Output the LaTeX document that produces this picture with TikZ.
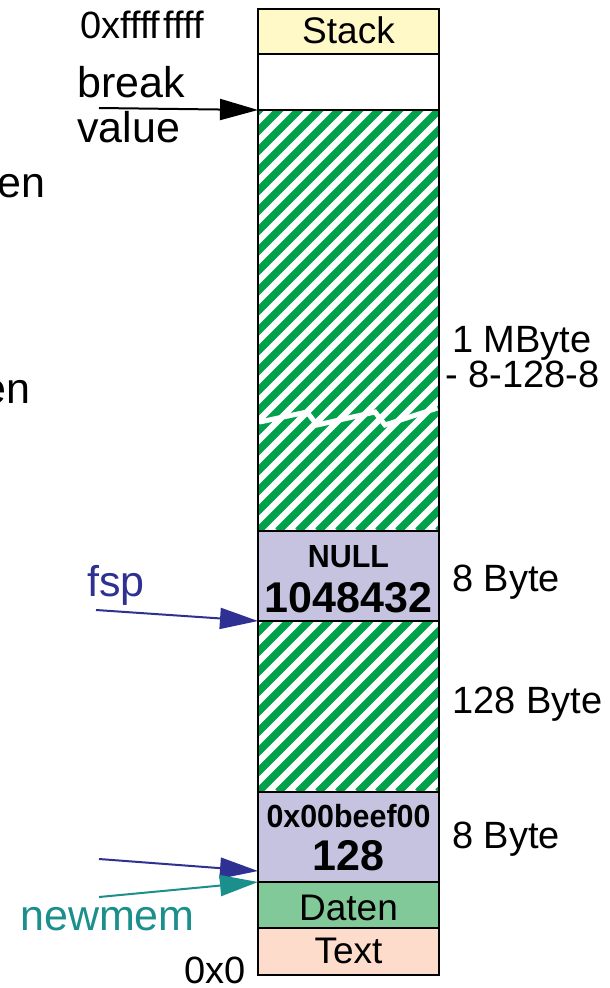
\documentclass[tikz,border=0pt]{standalone}
\usepackage{fontspec}
\setmainfont{Liberation Sans}
\newfontfamily\narrowfont[FakeStretch=0.95]{Liberation Sans}
\usetikzlibrary{arrows.meta}

\definecolor{stackyellow}{HTML}{FFF9C8}
\definecolor{freelav}{HTML}{C5C3E0}
\definecolor{datagreen}{HTML}{82C99A}
\definecolor{textpeach}{HTML}{FDDCCB}
\definecolor{stripegreen}{HTML}{00A14B}
\definecolor{fspblue}{HTML}{2E3192}
\definecolor{memteal}{HTML}{1B8F8B}

\tikzset{
  seg/.style={draw, line width=2.2pt, minimum width=181pt, inner sep=0pt, outer sep=0pt,
    font=\fontsize{37}{40}\selectfont},
  stripes/.style={path picture={
    \foreach \k in {-25,...,10}
      \draw[stripegreen, line width=7.5pt] ([xshift=\k*20pt]path picture bounding box.south west) -- ++(500,-500);
  }},
  lbl/.style={inner sep=0pt, font=\fontsize{38}{40}\selectfont},
  biglbl/.style={inner sep=0pt, font=\fontsize{43}{46}\selectfont},
  hdrsmall/.style={inner sep=0pt, font=\fontsize{32}{34}\narrowfont\bfseries},
  hdrbig/.style={inner sep=0pt, font=\fontsize{43}{44}\selectfont\bfseries},
  ptr/.style={line width=2pt, -{Triangle[length=38pt,width=21pt]}},
}

\begin{document}
\begin{tikzpicture}[x=1pt,y=-1pt]
  \useasboundingbox (0,0) rectangle (610,988);
  \clip (0,0) rectangle (610,988);

  \node[seg, fill=stackyellow, minimum height=45pt] (stack) at (348.5,31.5) {};
  \node[seg, fill=white, minimum height=56pt] (brkfree) at (348.5,82) {};
  \node[seg, fill=white, stripes, minimum height=421pt] (heaptop) at (348.5,320.5) {};
  \node[seg, fill=freelav, minimum height=90pt] (nullhdr) at (348.5,576) {};
  \node[seg, fill=white, stripes, minimum height=171pt] (heapbot) at (348.5,706.5) {};
  \node[seg, fill=freelav, minimum height=90pt] (beefhdr) at (348.5,837) {};
  \node[seg, fill=datagreen, minimum height=46pt] (daten) at (348.5,905) {};
  \node[seg, fill=textpeach, minimum height=47pt] (text) at (348.5,951.5) {};

  \draw[white, line width=5pt, line join=miter] (259.5,422) -- (307,412) -- (317,425) -- (375,412) -- (385,425) -- (437.5,408);

  \node[seg, draw=none, anchor=base] (stacklbl) at (stack.center |- 0,43) {Stack};
  \node[hdrsmall, anchor=base] (nullval) at (nullhdr.center |- 0,567) {NULL};
  \node[hdrbig, anchor=base] (nullsize) at (nullhdr.center |- 0,612) {1048432};
  \node[hdrsmall, anchor=base] (beefval) at (beefhdr.center |- 0,827) {0x00beef00};
  \node[hdrbig, anchor=base] (beefsize) at (beefhdr.center |- 0,870) {128};
  \node[seg, draw=none, anchor=base] (datenlbl) at (daten.center |- 0,920) {Daten};
  \node[seg, draw=none, anchor=base] (textlbl) at (text.center |- 0,963) {Text};

  \node[lbl, anchor=base west] (addrtop) at (80,38) {0xffff\kern3pt ffff};
  \node[biglbl, anchor=base west] (breaklbl) at (77,97) {break};
  \node[biglbl, anchor=base west] (valuelbl) at (77,142) {value};
  \node[biglbl, anchor=base east] (cutone) at (46,197) {en};
  \node[biglbl, anchor=base east] (cuttwo) at (31,403) {en};
  \node[lbl, anchor=base east] (addrbot) at (246,983) {0x0};

  \node[lbl, anchor=base west] (mbyte) at (452,352) {1 MByte};
  \node[lbl, anchor=base west] (mbyterest) at (445,387) {- 8-128-8};
  \node[lbl, anchor=base west] (nullbytes) at (452,591) {8 Byte};
  \node[lbl, anchor=base west] (heapbytes) at (452,713) {128 Byte};
  \node[lbl, anchor=base west] (beefbytes) at (452,848) {8 Byte};

  \node[biglbl, anchor=base west, text=fspblue] (fsplbl) at (87,596) {fsp};
  \node[biglbl, anchor=base west, text=memteal] (newmemlbl) at (20,930) {newmem};

  \coordinate (brktail) at (99,108);
  \coordinate (fsptail) at (96,610);
  \coordinate (usedtail) at (99,859);
  \coordinate (memtail) at (99,897);

  \draw[ptr] (brktail) -- (heaptop.north west);
  \draw[ptr, fspblue] (fsptail) -- (nullhdr.south west);
  \draw[ptr, fspblue] (usedtail) -- ([yshift=11pt]beefhdr.south west);
  \draw[ptr, memteal] (memtail) -- (daten.north west);
\end{tikzpicture}
\end{document}
